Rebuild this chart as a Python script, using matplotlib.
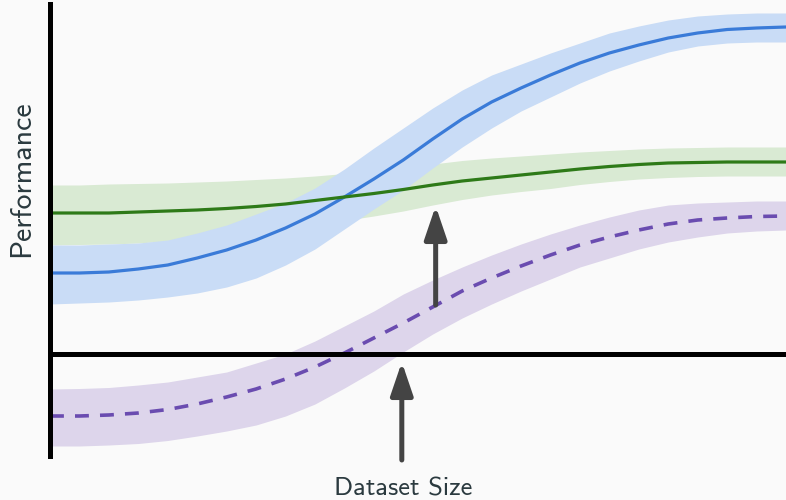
import numpy as np
import matplotlib
matplotlib.use("Agg")
import matplotlib.pyplot as plt

# ── Curve data (dataset size vs. performance, baseline at 0) ────────────────
size = [0.0, 0.4, 0.8, 1.2, 1.6, 2.0, 2.4, 2.8, 3.2, 3.6, 4.0, 4.4, 4.8,
        5.2, 5.6, 6.0, 6.4, 6.8, 7.2, 7.6, 8.0, 8.4, 8.8, 9.2, 9.6, 10.0]

blue_mean = [0.81, 0.81, 0.82, 0.85, 0.89, 0.96, 1.04, 1.14, 1.26, 1.40, 1.57, 1.75, 1.94,
             2.15, 2.35, 2.52, 2.66, 2.79, 2.91, 3.01, 3.09, 3.16, 3.21, 3.245, 3.26, 3.27]
blue_low = [0.50, 0.51, 0.52, 0.54, 0.57, 0.61, 0.67, 0.76, 0.89, 1.05, 1.25, 1.45, 1.64,
            1.86, 2.07, 2.26, 2.43, 2.57, 2.71, 2.83, 2.93, 3.02, 3.08, 3.11, 3.12, 3.12]
blue_high = [1.09, 1.09, 1.10, 1.11, 1.14, 1.21, 1.29, 1.40, 1.51, 1.66, 1.85, 2.06, 2.26,
             2.46, 2.64, 2.79, 2.90, 3.01, 3.11, 3.21, 3.28, 3.34, 3.38, 3.40, 3.41, 3.41]

green_mean = [1.41, 1.41, 1.41, 1.42, 1.43, 1.44, 1.455, 1.475, 1.50, 1.535, 1.57, 1.605, 1.645,
              1.69, 1.73, 1.76, 1.79, 1.82, 1.85, 1.875, 1.895, 1.91, 1.915, 1.92, 1.92, 1.92]
green_low = [1.09, 1.095, 1.10, 1.11, 1.13, 1.15, 1.18, 1.22, 1.255, 1.29, 1.335, 1.38, 1.43,
             1.49, 1.545, 1.59, 1.625, 1.655, 1.695, 1.725, 1.75, 1.765, 1.775, 1.78, 1.78, 1.78]
green_high = [1.69, 1.69, 1.70, 1.705, 1.71, 1.72, 1.73, 1.745, 1.76, 1.78, 1.805, 1.83, 1.86,
              1.90, 1.935, 1.96, 1.98, 2.00, 2.02, 2.035, 2.05, 2.06, 2.065, 2.07, 2.07, 2.07]

purple_mean = [-0.62, -0.62, -0.61, -0.59, -0.555, -0.50, -0.43, -0.35, -0.25, -0.13, 0.01, 0.16, 0.31,
               0.47, 0.63, 0.76, 0.88, 0.99, 1.09, 1.17, 1.24, 1.30, 1.34, 1.36, 1.375, 1.38]
purple_low = [-0.92, -0.92, -0.91, -0.895, -0.865, -0.82, -0.77, -0.71, -0.62, -0.50, -0.34, -0.17, 0.02,
              0.20, 0.36, 0.50, 0.63, 0.75, 0.87, 0.96, 1.05, 1.12, 1.17, 1.21, 1.23, 1.24]
purple_high = [-0.35, -0.345, -0.335, -0.31, -0.28, -0.23, -0.18, -0.09, 0.00, 0.13, 0.28, 0.43, 0.60,
               0.74, 0.87, 0.99, 1.10, 1.20, 1.29, 1.37, 1.44, 1.49, 1.51, 1.52, 1.53, 1.53]

# arrows: (x, y_start, y_end)
arrows = [(5.24, 0.49, 1.48), (4.78, -1.06, -0.08)]

# ── Style ────────────────────────────────────────────────────────────────────
BG = "#fafafa"
TEXT = "#2b3a3f"
ARROW = "#444444"
plt.rcParams["lines.scale_dashes"] = False

fig = plt.figure(figsize=(7.86, 5.0), dpi=100, facecolor=BG)
ax = fig.add_axes([50 / 786, 0, 736 / 786, 1])
ax.set_facecolor(BG)
ax.set_xlim(0, 10)
ax.set_ylim(-1.46, 3.54)

# bands
ax.fill_between(size, purple_low, purple_high, color="#ddd5eb", lw=0, zorder=1)
ax.fill_between(size, green_low, green_high, color="#d9ead3", lw=0, zorder=1)
ax.fill_between(size, blue_low, blue_high, color="#c9dcf6", lw=0, zorder=2)

# mean curves
ax.plot(size, blue_mean, color="#3a7bd8", lw=2.3, zorder=3, solid_joinstyle="round")
ax.plot(size, green_mean, color="#2e7a18", lw=2.3, zorder=3, solid_joinstyle="round")
ax.plot(size, purple_mean, color="#6a4cb0", lw=2.6, dashes=(10, 8), zorder=3)

# axes: vertical at left, horizontal through zero
for side in ["top", "right", "bottom"]:
    ax.spines[side].set_visible(False)
ax.spines["left"].set_linewidth(3.6)
ax.spines["left"].set_color("black")
ax.spines["left"].set_bounds(-1.02, 3.505)
ax.spines["left"].set_zorder(5)
ax.axhline(0, color="black", lw=3.6, zorder=4)
ax.set_xticks([])
ax.set_yticks([])

for x, y0, y1 in arrows:
    ax.annotate("", xy=(x, y1), xytext=(x, y0),
                arrowprops=dict(arrowstyle="-|>,head_length=1.0,head_width=0.34",
                                mutation_scale=20, color=ARROW, lw=3.6,
                                shrinkA=0, shrinkB=0),
                zorder=6)

fig.text(22 / 786, 1 - 179 / 500, "Performance", rotation=90, ha="center", va="center",
         fontsize=21.5, color=TEXT, family="cmss10")
fig.text(403 / 786, 1 - 496 / 500, "Dataset Size", ha="center", va="baseline",
         fontsize=19, color=TEXT, family="cmss10")

fig.savefig("out.png", dpi=100, facecolor=BG)
